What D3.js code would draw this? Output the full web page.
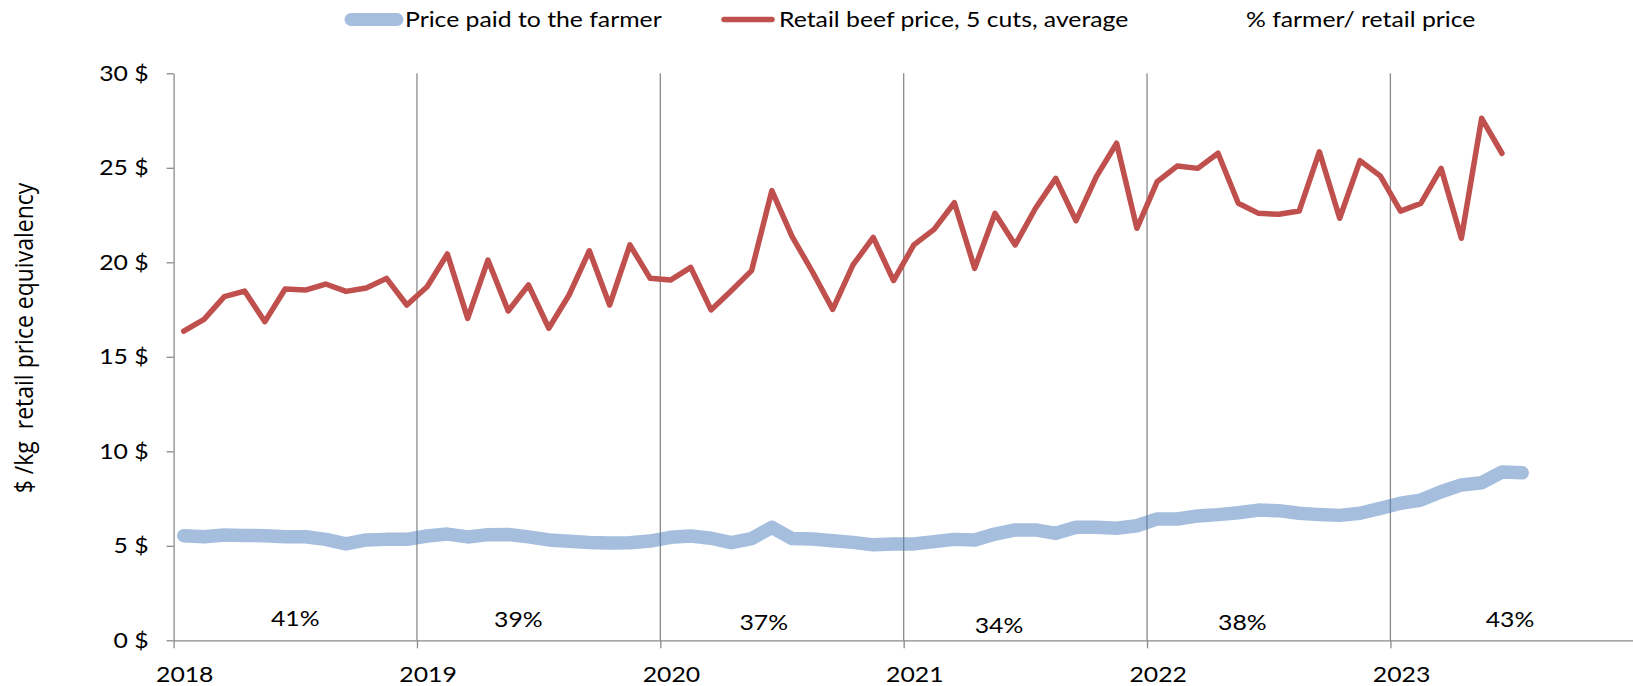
<!DOCTYPE html>
<html>
<head>
<meta charset="utf-8">
<script src="https://cdn.jsdelivr.net/npm/d3@7"></script>
<style>
  body { margin: 0; background: #fff; }
  svg { display: block; }
</style>
</head>
<body>
<svg id="chart" width="1633" height="686"></svg>
<script>
// ---- data -------------------------------------------------------------
const yearLabels = ["2018", "2019", "2020", "2021", "2022", "2023"];

// Monthly values from January 2018, $ per kg (retail price equivalent)
const farmerPrice = [
  5.53, 5.48, 5.57, 5.55, 5.53, 5.48, 5.48, 5.34, 5.10, 5.31, 5.34, 5.34,
  5.52, 5.62, 5.47, 5.59, 5.60, 5.47, 5.31, 5.24, 5.18, 5.15, 5.16, 5.25,
  5.45, 5.52, 5.40, 5.17, 5.38, 5.98, 5.38, 5.36, 5.27, 5.18, 5.05, 5.10,
  5.10, 5.22, 5.34, 5.31, 5.62, 5.84, 5.84, 5.66, 5.98, 5.98, 5.93, 6.06,
  6.42, 6.42, 6.58, 6.65, 6.75, 6.89, 6.86, 6.72, 6.65, 6.61, 6.72, 6.98,
  7.25, 7.42, 7.86, 8.22, 8.34, 8.90, 8.86
];

const retailPrice = [
  16.36, 16.98, 18.18, 18.48, 16.86, 18.59, 18.53, 18.85, 18.46, 18.64, 19.15, 17.74,
  18.71, 20.44, 17.03, 20.12, 17.42, 18.80, 16.51, 18.27, 20.61, 17.74, 20.92, 19.15,
  19.06, 19.73, 17.48, 18.50, 19.56, 23.79, 21.36, 19.50, 17.51, 19.86, 21.32, 19.03,
  20.92, 21.74, 23.15, 19.68, 22.59, 20.92, 22.86, 24.44, 22.20, 24.53, 26.30, 21.80,
  24.27, 25.10, 24.97, 25.77, 23.12, 22.59, 22.54, 22.71, 25.85, 22.33, 25.38, 24.57,
  22.71, 23.12, 24.97, 21.27, 27.62, 25.77
];

// Yearly farmer share of the retail price (hidden series, label only)
const shareLabels = ["41%", "39%", "37%", "34%", "38%", "43%"];
const shareMonth  = [5.5, 16.5, 28.6, 40.2, 52.2, 65.4];
const shareAnchor = [0.78, 0.73, 0.56, 0.41, 0.56, 0.68];

const yTicks = [0, 5, 10, 15, 20, 25, 30];
const seriesNames = [
  "Price paid to the farmer",
  "Retail beef price, 5 cuts, average",
  "% farmer/ retail price"
];
const yTitle = "$ /kg\u00A0\u00A0retail price equivalency";

// ---- layout -----------------------------------------------------------
const svg = d3.select("#chart");
const FONT = "Lato, 'Open Sans', sans-serif";
const SX = 1.18;              // horizontal text stretch
const AXIS_COL = "#8a8a8a";
const BLUE = "#4F81BD";
const RED = "#C0504D";

const plotLeft = 173.6, plotTop = 73.3, plotBottom = 640.3;
const monthW = 20.28, monthCount = 72;

const x = d3.scaleLinear().domain([0, monthCount])
  .range([plotLeft, plotLeft + monthCount * monthW]);
const y = d3.scaleLinear().domain([0, 30]).range([plotBottom, plotTop]);

function stretchedText(g, tx, ty, str, anchor) {
  return g.append("text")
    .attr("transform", `translate(${tx},${ty}) scale(${SX},1)`)
    .attr("text-anchor", anchor || "start")
    .attr("font-family", FONT)
    .attr("font-size", 21)
    .attr("fill", "#000")
    .text(str);
}

// ---- vertical year gridlines -----------------------------------------
const yearStarts = yearLabels.map((_, k) => k * 12);
svg.append("g")
  .selectAll("line")
  .data(yearStarts.slice(1))
  .join("line")
  .attr("x1", d => x(d)).attr("x2", d => x(d))
  .attr("y1", y(30)).attr("y2", y(0))
  .attr("stroke", AXIS_COL).attr("stroke-width", 1.3);

// ---- axes -------------------------------------------------------------
const yAxis = svg.append("g")
  .attr("transform", `translate(${plotLeft},0)`)
  .call(d3.axisLeft(y).tickValues(yTicks).tickSize(7).tickSizeOuter(0).tickPadding(18)
    .tickFormat(d => d + " $"));
yAxis.select(".domain").attr("stroke", AXIS_COL).attr("stroke-width", 1.3);
yAxis.selectAll(".tick line").attr("stroke", AXIS_COL).attr("stroke-width", 1.3);
yAxis.selectAll(".tick text")
  .attr("font-family", FONT).attr("font-size", 21).attr("fill", "#000")
  .each(function () {
    const t = d3.select(this);
    const tx = +t.attr("x");
    t.attr("x", 0).attr("transform", `translate(${tx},0) scale(${SX},1)`);
  });

const xTickMonths = yearLabels.map((_, k) => k * 12).concat([monthCount]);
const xAxis = svg.append("g")
  .attr("transform", `translate(0,${plotBottom})`)
  .call(d3.axisBottom(x).tickValues(xTickMonths).tickSize(8).tickSizeOuter(0)
    .tickFormat(""));
xAxis.select(".domain").attr("stroke", AXIS_COL).attr("stroke-width", 1.3);
xAxis.selectAll(".tick line").attr("stroke", AXIS_COL).attr("stroke-width", 1.3);

const xLabels = svg.append("g");
yearLabels.forEach((lab, k) => {
  stretchedText(xLabels, x(k * 12 + 0.5) + 1, 682, lab, "middle");
});

// ---- series -----------------------------------------------------------
const line = d3.line()
  .x((d, i) => x(i + 0.5))
  .y(d => y(d));

svg.append("path")
  .datum(farmerPrice)
  .attr("d", line)
  .attr("fill", "none")
  .attr("stroke", BLUE)
  .attr("stroke-opacity", 0.515)
  .attr("stroke-width", 13.5)
  .attr("stroke-linejoin", "round")
  .attr("stroke-linecap", "round");

svg.append("path")
  .datum(retailPrice)
  .attr("d", line)
  .attr("fill", "none")
  .attr("stroke", RED)
  .attr("stroke-width", 5.5)
  .attr("stroke-linejoin", "round")
  .attr("stroke-linecap", "round");

// ---- share labels -----------------------------------------------------
const shareG = svg.append("g");
shareLabels.forEach((lab, k) => {
  stretchedText(shareG, x(shareMonth[k] + 0.5), y(shareAnchor[k]), lab, "middle");
});

// ---- y-axis title -----------------------------------------------------
svg.append("text")
  .attr("transform", "translate(33,338) rotate(-90) scale(1,1.12)")
  .attr("text-anchor", "middle")
  .attr("font-family", "'Open Sans', sans-serif")
  .attr("font-size", 23)
  .attr("fill", "#000")
  .text(yTitle);

// ---- legend -----------------------------------------------------------
const legend = svg.append("g");
const legendItems = [
  { name: seriesNames[0], color: BLUE, opacity: 0.515, width: 13, x1: 351, x2: 397, tx: 405 },
  { name: seriesNames[1], color: RED, opacity: 1, width: 5.5, x1: 724, x2: 772, tx: 779 },
  { name: seriesNames[2], color: "none", opacity: 0, width: 0, x1: 1190, x2: 1238, tx: 1246 }
];
legendItems.forEach(it => {
  legend.append("line")
    .attr("x1", it.x1).attr("x2", it.x2).attr("y1", 19.5).attr("y2", 19.5)
    .attr("stroke", it.color).attr("stroke-opacity", it.opacity)
    .attr("stroke-width", it.width).attr("stroke-linecap", "round");
  stretchedText(legend, it.tx, 27, it.name, "start");
});
</script>
</body>
</html>
